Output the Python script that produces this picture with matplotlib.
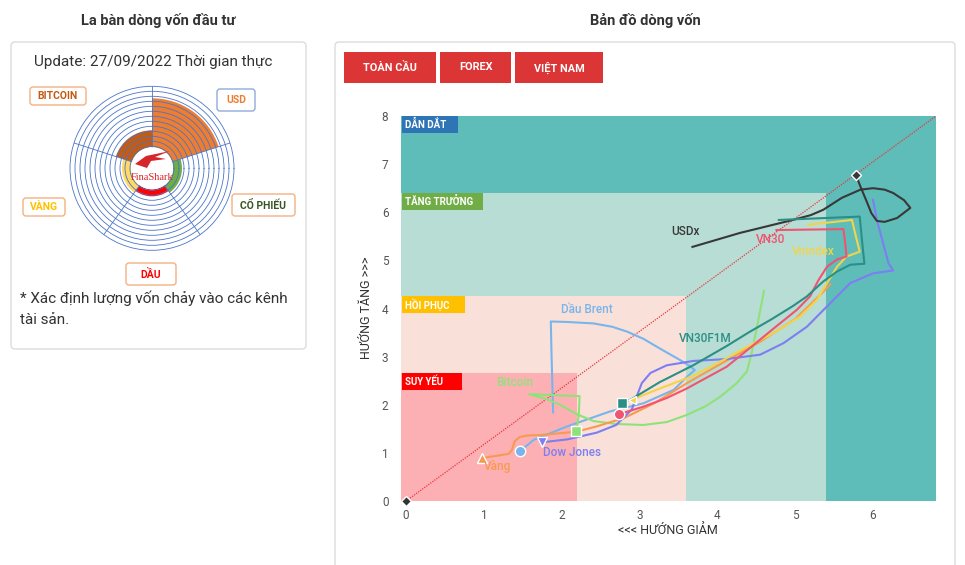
import matplotlib
matplotlib.use("Agg")
import matplotlib.pyplot as plt
from matplotlib.patches import FancyBboxPatch, Rectangle, Circle, Polygon
import numpy as np

plt.rcParams["font.family"] = ["Roboto", "DejaVu Sans"]

# ---------------- compass (left panel) ----------------
compass_labels = ["USD", "CỔ PHIẾU", "DẦU", "VÀNG", "BITCOIN"]
compass_angles = [54, -18, -90, -162, 126]          # sector centres (deg)
compass_values = [49, 9, 7, 9, 17]                   # bar length beyond inner hole
compass_colors = ["#ed7d31", "#70ad47", "#ff0000", "#ffd966", "#c55a11"]

# ---------------- flow map (right panel) ----------------
zone_names = ["DẪN DẮT", "TĂNG TRƯỞNG", "HỒI PHỤC", "SUY YẾU"]
zone_right = [6.81, 5.4, 3.6, 2.2]
zone_top = [8.0, 6.4, 4.25, 2.65]

vang_x = [0.97, 1.32, 1.36, 1.40, 1.46, 1.55, 1.72, 2.19, 2.45, 2.67, 2.77, 3.2, 3.61, 4.1, 4.55, 5.0, 5.32, 5.45]
vang_y = [0.89, 0.98, 1.06, 1.25, 1.33, 1.36, 1.37, 1.44, 1.55, 1.66, 1.70, 2.04, 2.45, 2.9, 3.31, 3.78, 4.28, 4.5]

dau_x = [1.89, 1.87, 1.86, 2.07, 2.41, 2.65, 2.84, 3.05, 3.26, 3.52, 3.65, 3.71, 3.61, 3.44, 3.05, 2.62, 2.07, 1.64, 1.46]
dau_y = [1.84, 3.0, 3.73, 3.72, 3.69, 3.62, 3.52, 3.37, 3.17, 2.93, 2.8, 2.72, 2.58, 2.31, 2.03, 1.86, 1.55, 1.27, 1.03]

dow_x = [1.75, 2.07, 2.45, 2.7, 2.9, 2.97, 3.03, 3.14, 3.35, 3.69, 4.12, 4.55, 4.85, 5.15, 5.45, 5.71, 6.0, 6.26, 6.2, 6.13, 6.05, 6.0]
dow_y = [1.22, 1.28, 1.42, 1.58, 1.9, 2.2, 2.45, 2.66, 2.82, 2.91, 2.95, 3.04, 3.28, 3.62, 4.11, 4.53, 4.73, 4.79, 4.94, 5.36, 5.84, 6.26]

bitcoin_x = [2.19, 2.22, 2.23, 1.58, 1.8, 1.98, 2.2, 2.41, 2.7, 3.05, 3.35, 3.61, 3.85, 4.04, 4.25, 4.38, 4.44, 4.51, 4.6]
bitcoin_y = [1.46, 1.8, 2.18, 2.22, 2.12, 2.0, 1.8, 1.66, 1.6, 1.58, 1.64, 1.79, 1.97, 2.17, 2.45, 2.69, 3.07, 3.62, 4.37]

vn30_x = [2.73, 3.05, 3.35, 3.61, 4.12, 4.45, 4.72, 5.02, 5.19, 5.3, 5.41, 5.54, 5.66, 5.64, 5.62, 4.76]
vn30_y = [1.80, 1.96, 2.14, 2.34, 2.79, 3.22, 3.58, 3.97, 4.25, 4.59, 4.87, 5.02, 5.08, 5.4, 5.65, 5.63]

vnindex_x = [2.9, 3.2, 3.69, 4.1, 4.38, 4.72, 5.06, 5.28, 5.41, 5.54, 5.66, 5.83, 5.78, 5.73, 5.17]
vnindex_y = [2.1, 2.3, 2.6, 2.95, 3.2, 3.49, 3.83, 4.18, 4.53, 4.87, 5.08, 5.18, 5.5, 5.84, 5.74]

f1m_x = [2.78, 2.88, 3.26, 3.69, 4.12, 4.4, 4.7, 4.97, 5.15, 5.36, 5.54, 5.71, 5.89, 5.86, 5.83, 4.79]
f1m_y = [2.04, 2.1, 2.47, 2.82, 3.22, 3.5, 3.78, 4.05, 4.25, 4.56, 4.77, 4.91, 4.93, 5.4, 5.91, 5.84]

usdx_x = [3.68, 4.29, 4.97, 5.2, 5.36, 5.6, 5.84, 6.0, 6.15, 6.26, 6.4, 6.48, 6.31, 6.15, 6.05, 5.98, 5.92, 5.84, 5.78]
usdx_y = [5.28, 5.57, 5.84, 5.94, 6.05, 6.3, 6.47, 6.5, 6.47, 6.4, 6.25, 6.09, 5.88, 5.8, 5.82, 5.98, 6.22, 6.53, 6.78]

diag_x = [0, 6.81]
diag_y = [0, 8.0]

# name, x, y, colour, marker, marker at start(0) or end(-1)
series = [
    ("Dầu Brent", dau_x, dau_y, "#79b4ec", "o", -1),
    ("Bitcoin", bitcoin_x, bitcoin_y, "#8fe27a", "s", 0),
    ("Vàng", vang_x, vang_y, "#f79a51", "^", 0),
    ("Dow Jones", dow_x, dow_y, "#7c7ef2", "v", 0),
    ("USDx", usdx_x, usdx_y, "#383838", "D", -1),
    ("Vnindex", vnindex_x, vnindex_y, "#f2d44a", "<", 0),
    ("VN30", vn30_x, vn30_y, "#ef5472", "o", 0),
    ("VN30F1M", f1m_x, f1m_y, "#2a8f86", "s", 0),
]
label_pos = {
    "USDx": (3.59, 5.59), "VN30": (4.68, 5.43), "Vnindex": (5.23, 5.18),
    "Dầu Brent": (2.33, 3.97), "VN30F1M": (3.84, 3.37), "Bitcoin": (1.40, 2.47),
    "Dow Jones": (2.13, 1.0), "Vàng": (1.17, 0.71),
}

fig = plt.figure(figsize=(9.65, 5.65), dpi=100)
fig.patch.set_facecolor("white")

# pixel-space background layer (cards, titles)
bg = fig.add_axes([0, 0, 1, 1], zorder=0)
bg.set_xlim(0, 965)
bg.set_ylim(565, 0)
bg.axis("off")
for x0, y0, w, h in [(11, 42, 295, 307), (335, 42, 620, 540)]:
    bg.add_patch(FancyBboxPatch((x0, y0), w, h, boxstyle="round,pad=0,rounding_size=4",
                                fc="white", ec="#dcdcdc", lw=1))
bg.text(158, 21, "La bàn dòng vốn đầu tư", ha="center", va="center",
        fontsize=10.5, fontweight="bold", color="#333333")
bg.text(645, 21, "Bản đồ dòng vốn", ha="center", va="center",
        fontsize=10.5, fontweight="bold", color="#333333")

# ---------------- compass ----------------
cax = fig.add_axes([70 / 965, (565 - 250.3) / 565, 164 / 965, 164 / 565],
                   projection="polar", zorder=2)
cax.bar(np.deg2rad(compass_angles), compass_values, width=np.deg2rad(72), bottom=21,
        color=compass_colors, edgecolor="none")
cax.set_ylim(0, 82)
cax.set_yticks(np.arange(22, 82, 5))
cax.set_yticklabels([])
cax.set_xticks(np.deg2rad([18, 90, 162, 234, 306]))
cax.set_xticklabels([])
cax.grid(True, color="#4a74c9", lw=0.6)
cax.set_axisbelow(False)
cax.spines["polar"].set_color("#4a74c9")
cax.spines["polar"].set_linewidth(0.6)

# ---------------- flow map ----------------
ax = fig.add_axes([401 / 965, 64 / 565, 535 / 965, 385 / 565], zorder=2)
xmin = -0.065
ax.set_xlim(xmin, 6.81)
ax.set_ylim(0, 8)
fills = ["#5fbdb9", "#b8ddd4", "#f9e1da", "#fdb0b4"]
tags = ["#2e75b6", "#70ad47", "#ffc000", "#ff0000"]
tag_w = [0.72, 1.04, 0.81, 0.77]
for name, right, top, fc, tc, tw in zip(zone_names, zone_right, zone_top, fills, tags, tag_w):
    ax.add_patch(Rectangle((xmin, 0), right - xmin, top, fc=fc, ec="none", zorder=0))
    ax.add_patch(Rectangle((xmin + 0.01, top - 0.35), tw, 0.35, fc=tc, ec="none", zorder=1))
    ax.text(xmin + 0.05, top - 0.175, name, ha="left", va="center", fontsize=7,
            fontweight="bold", color="white", zorder=2)

ax.plot(diag_x, diag_y, color="#e8383d", lw=0.9, ls=(0, (1, 1)), zorder=3)
ax.plot(diag_x[:1], diag_y[:1], "D", color="#333333", mec="white", mew=1, ms=5.5,
        zorder=9, clip_on=False)

for name, xs, ys, col, mk, idx in series:
    ax.plot(xs, ys, color=col, lw=1.5, zorder=4, solid_joinstyle="round")
    ms = 5.5 if mk in ("D", "<") else 7.5
    ax.plot([xs[idx]], [ys[idx]], mk, color=col, mec="white", mew=1, ms=ms, zorder=8,
            clip_on=False)
    lx, ly = label_pos[name]
    ax.text(lx, ly, name, ha="center", va="center", fontsize=8.5, color=col,
            fontweight="medium", zorder=10)

ax.set_xticks(range(0, 7))
ax.set_yticks(range(0, 9))
ax.tick_params(length=0, labelsize=8.5, labelcolor="#555555")
ax.tick_params(axis="x", pad=6)
ax.tick_params(axis="y", pad=9)
for s in ax.spines.values():
    s.set_visible(False)

# ---------------- foreground layer (logo, tags, buttons, notes) ----------------
fg = fig.add_axes([0, 0, 1, 1], zorder=5)
fg.set_xlim(0, 965)
fg.set_ylim(565, 0)
fg.axis("off")
fg.patch.set_alpha(0)

fg.add_patch(Circle((152, 168.3), 21, fc="white", ec="none"))
fg.add_patch(Polygon([(135, 164), (146, 156), (170, 151), (155, 157), (166, 159),
                      (151, 161), (147, 168)], closed=True, fc="#d7262b", ec="none"))
fg.text(152, 177, "FinaShark", ha="center", va="center", fontsize=7.5,
        family="Liberation Serif", color="#d7262b")

fg.text(153, 62, "Update: 27/09/2022 Thời gian thực", ha="center", va="center",
        fontsize=11, color="#333333")
fg.text(20, 298, "* Xác định lượng vốn chảy vào các kênh", ha="left", va="center",
        fontsize=11, color="#333333")
fg.text(20, 320, "tài sản.", ha="left", va="center", fontsize=11, color="#333333")

compass_tags = [
    ("BITCOIN", 30, 87, 56, 18, "#f4b183", "#c55a11"),
    ("USD", 217, 89, 38, 22, "#8faadc", "#ed7d31"),
    ("CỔ PHIẾU", 232, 194, 63, 22, "#f4b183", "#375623"),
    ("VÀNG", 23, 198, 42, 18, "#f4b183", "#ffc000"),
    ("DẦU", 126, 263, 50, 22, "#f4b183", "#ff0000"),
]
for txt, x0, y0, w, h, ec, tc in compass_tags:
    fg.add_patch(FancyBboxPatch((x0, y0), w, h, boxstyle="round,pad=0,rounding_size=3",
                                fc="white", ec=ec, lw=1))
    fg.text(x0 + w / 2, y0 + h / 2, txt, ha="center", va="center", fontsize=7.5,
            fontweight="bold", color=tc)

for txt, x0, w in [("TOÀN CẦU", 344, 92), ("FOREX", 440, 71), ("VIỆT NAM", 515, 88)]:
    fg.add_patch(Rectangle((x0, 52), w, 31, fc="#dc3535", ec="none"))
    fg.text(x0 + w / 2, 67.5, txt, ha="center", va="center", fontsize=7.8,
            fontweight="bold", color="white")

fg.text(366, 308, "HƯỚNG TĂNG >>>", rotation=90, ha="center", va="center",
        fontsize=9, color="#333333")
fg.text(668, 531, "<<< HƯỚNG GIẢM", ha="center", va="center", fontsize=9, color="#333333")

fig.savefig("out.png", dpi=100)
